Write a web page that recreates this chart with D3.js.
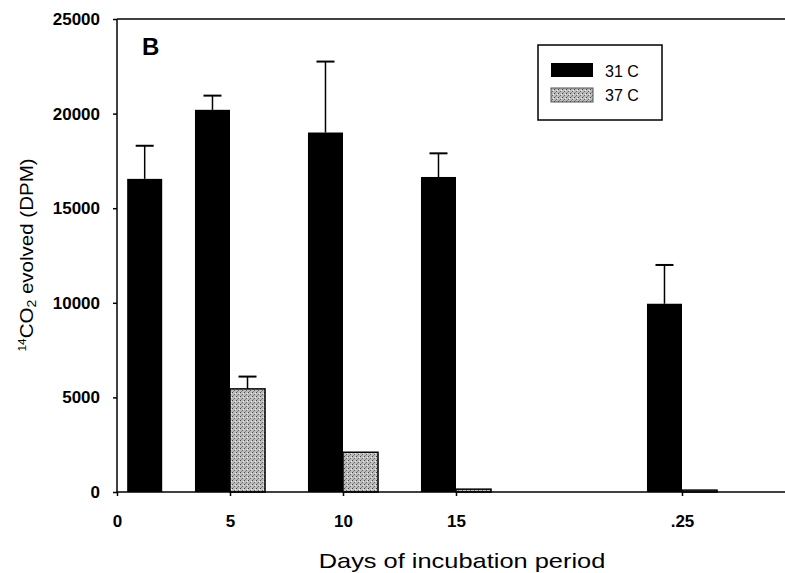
<!DOCTYPE html>
<html>
<head>
<meta charset="utf-8">
<script src="https://cdn.jsdelivr.net/npm/d3@7"></script>
<style>
  body { margin: 0; background: #fff; }
  svg { display: block; font-family: "Liberation Sans", Arial, sans-serif; }
  .axis path, .axis line { stroke: #000; stroke-width: 1.5; }
  .axis text { font-weight: bold; fill: #000; }
</style>
</head>
<body>
<div id="chart"></div>
<script>
// days of incubation
var days = [2, 5, 10, 15, 25]
// 14CO2 evolved (DPM)
var warm = [16550, 20200, 19000, 16650, 9950]      // 31 C
var warmErr = [18300, 20950, 22750, 17900, 12000]  // top of error bar
var hot = [0, 5450, 2100, 150, 100]                 // 37 C
var hotErr = [0, 6100, 0, 0, 0]
var xTicks = [0, 5, 10, 15, 25]
var xTickLabels = ['0', '5', '10', '15', '.25']
var yTicks = [0, 5000, 10000, 15000, 20000, 25000]
var seriesNames = ['31 C', '37 C']

var width = 785
var height = 573
var mLeft = 117, mRight = 795, mTop = 19, mBottom = 492

var x = d3.scaleLinear().domain([0, 30]).range([mLeft, mRight])
var y = d3.scaleLinear().domain([0, 25000]).range([mBottom, mTop])
var barW = x(1.55) - x(0)

var svg = d3.select('#chart').append('svg')
    .attr('width', width)
    .attr('height', height)

// stippled grey fill
var defs = svg.append('defs')
var pat = defs.append('pattern')
    .attr('id', 'stipple')
    .attr('patternUnits', 'userSpaceOnUse')
    .attr('width', 4).attr('height', 4)
pat.append('rect').attr('width', 4).attr('height', 4).attr('fill', '#bdbdbd')
pat.append('rect').attr('x', 0).attr('y', 0).attr('width', 1).attr('height', 1).attr('fill', '#444')
pat.append('rect').attr('x', 2).attr('y', 2).attr('width', 1).attr('height', 1).attr('fill', '#666')
pat.append('rect').attr('x', 1).attr('y', 3).attr('width', 1).attr('height', 1).attr('fill', '#888')
pat.append('rect').attr('x', 3).attr('y', 1).attr('width', 1).attr('height', 1).attr('fill', '#eee')

// top frame line
svg.append('line')
    .attr('x1', mLeft).attr('x2', width)
    .attr('y1', mTop).attr('y2', mTop)
    .attr('stroke', '#000').attr('stroke-width', 1.5)

// bars 31 C
svg.selectAll('rect.warm')
    .data(days)
    .enter().append('rect')
    .attr('class', 'warm')
    .attr('x', function (d) { return x(d) - barW })
    .attr('y', function (d, i) { return y(warm[i]) })
    .attr('width', barW)
    .attr('height', function (d, i) { return mBottom - y(warm[i]) })
    .attr('fill', '#000')

// bars 37 C
svg.selectAll('rect.hot')
    .data(days)
    .enter().append('rect')
    .attr('class', 'hot')
    .attr('x', function (d) { return x(d) })
    .attr('y', function (d, i) { return y(hot[i]) })
    .attr('width', barW)
    .attr('height', function (d, i) { return mBottom - y(hot[i]) })
    .attr('fill', 'url(#stipple)')
    .attr('stroke', function (d, i) { return hot[i] > 0 ? '#000' : 'none' })
    .attr('stroke-width', 1.5)

// error bars (upper only)
function errBars(vals, errs, offset) {
    var g = svg.append('g')
    days.forEach(function (d, i) {
        if (errs[i] <= vals[i]) return
        var cx = x(d) + offset
        g.append('line')
            .attr('x1', cx).attr('x2', cx)
            .attr('y1', y(vals[i])).attr('y2', y(errs[i]))
            .attr('stroke', '#000').attr('stroke-width', 1.5)
        g.append('line')
            .attr('x1', cx - 9).attr('x2', cx + 9)
            .attr('y1', y(errs[i])).attr('y2', y(errs[i]))
            .attr('stroke', '#000').attr('stroke-width', 2)
    })
}
errBars(warm, warmErr, -barW / 2)
errBars(hot, hotErr, barW / 2)

// axes
var yAxis = d3.axisLeft(y)
    .tickValues(yTicks)
    .tickSize(4)
    .tickPadding(13)
    .tickFormat(d3.format('d'))
svg.append('g')
    .attr('class', 'axis')
    .attr('transform', 'translate(' + mLeft + ',0)')
    .style('font-size', '17px')
    .call(yAxis)
    .call(function (g) { g.select('.domain').attr('d', 'M0,' + mTop + 'V' + mBottom) })

var xAxis = d3.axisBottom(x)
    .tickValues(xTicks)
    .tickSize(4)
    .tickPadding(19)
    .tickFormat(function (d, i) { return xTickLabels[i] })
svg.append('g')
    .attr('class', 'axis')
    .attr('transform', 'translate(0,' + mBottom + ')')
    .style('font-size', '17px')
    .call(xAxis)
    .call(function (g) { g.select('.domain').attr('d', 'M' + mLeft + ',0H' + width) })

// axis titles (scanned lettering is wide, so stretch horizontally)
svg.append('text')
    .attr('transform', 'translate(462,568) scale(1.21,1)')
    .attr('text-anchor', 'middle')
    .style('font-size', '21px')
    .text('Days of incubation period')

var yt = svg.append('text')
    .attr('transform', 'translate(33,255) rotate(-90) scale(1.08,1)')
    .attr('text-anchor', 'middle')
    .style('font-size', '19px')
yt.append('tspan').attr('font-size', '11px').attr('dy', '-7').text('14')
yt.append('tspan').attr('dy', '7').text('CO')
yt.append('tspan').attr('font-size', '13px').attr('dy', '3').text('2')
yt.append('tspan').attr('dy', '-3').text(' evolved (DPM)')

// panel letter
svg.append('text')
    .attr('x', 142).attr('y', 55)
    .style('font-size', '24px')
    .style('font-weight', 'bold')
    .text('B')

// legend
var lg = svg.append('g').attr('transform', 'translate(538,45)')
lg.append('rect')
    .attr('width', 124).attr('height', 75)
    .attr('fill', '#fff').attr('stroke', '#000').attr('stroke-width', 1.5)
var fills = ['#000', 'url(#stipple)']
seriesNames.forEach(function (name, i) {
    lg.append('rect')
        .attr('x', 13).attr('y', 18 + i * 25)
        .attr('width', 42).attr('height', 14)
        .attr('fill', fills[i])
        .attr('stroke', i ? '#555' : 'none')
    lg.append('text')
        .attr('x', 67).attr('y', 32 + i * 24)
        .style('font-size', '16px')
        .text(name)
})
</script>
</body>
</html>
